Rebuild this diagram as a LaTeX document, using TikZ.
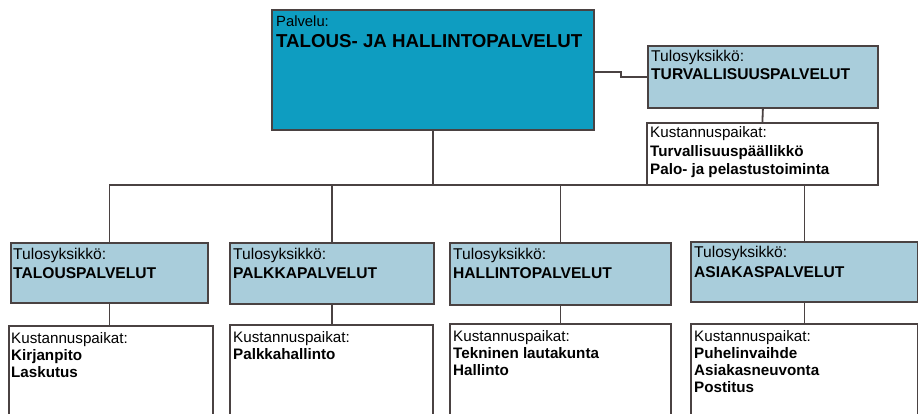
\documentclass[tikz,border=0pt]{standalone}
\usepackage{fontspec}
\setmainfont{Liberation Sans}
\definecolor{maincyan}{HTML}{0E9DC1}
\definecolor{unitblue}{HTML}{A9CDDB}
\definecolor{edge}{HTML}{4A4242}
\begin{document}
\begin{tikzpicture}[x=1pt,y=-1pt,
  box/.style={draw=edge,line width=1.8pt,inner sep=0pt},
  unitbox/.style={box,fill=unitblue},
  costbox/.style={box,fill=white},
  txt/.style={anchor=base west,align=left,inner sep=0pt,font=\fontsize{15.6}{18}\selectfont},
  ctxt/.style={anchor=base west,align=left,inner sep=0pt,font=\fontsize{15.2}{17.5}\selectfont},
  conn/.style={draw=edge,line width=1.8pt}]
\useasboundingbox (0,0) rectangle (918,414);
\fill[white] (0,0) rectangle (918,414);
\begin{scope}
\clip (0,0) rectangle (918,414);
% main
\node[box,fill=maincyan,minimum width=322pt,minimum height=120pt,anchor=north west] (main) at (271,9) {};
\node[txt] (maintxt1) at (276,27) {\fontsize{14.8}{17}\selectfont Palvelu:};
\node[txt] (maintxt2) at (276,48) {\fontsize{18.7}{21}\selectfont\bfseries TALOUS- JA HALLINTOPALVELUT};
% top right
\node[unitbox,minimum width=230pt,minimum height=62pt,anchor=north west] (turv) at (647,45) {};
\node[txt] (turvt1) at (651,62) {Tulosyksikkö:};
\node[txt] (turvt2) at (651,80) {\bfseries TURVALLISUUSPALVELUT};
\node[costbox,minimum width=231pt,minimum height=62pt,anchor=north west] (kt) at (646,122) {};
\node[ctxt] (ktt1) at (650,138) {Kustannuspaikat:};
\node[ctxt] (ktt2) at (650,157) {\bfseries Turvallisuuspäällikkö};
\node[ctxt] (ktt3) at (650,175) {\bfseries Palo- ja pelastustoiminta};
% bottom units
\node[unitbox,minimum width=197pt,minimum height=60pt,anchor=north west] (b1) at (10,242) {};
\node[unitbox,minimum width=204pt,minimum height=61pt,anchor=north west] (b2) at (229,242) {};
\node[unitbox,minimum width=221pt,minimum height=62pt,anchor=north west] (b3) at (449,242) {};
\node[unitbox,minimum width=227pt,minimum height=60pt,anchor=north west] (b4) at (690,241) {};
\node[txt] (b1t1) at (13,259) {Tulosyksikkö:};
\node[txt] (b1t2) at (13,278) {\bfseries TALOUSPALVELUT};
\node[txt] (b2t1) at (233,259) {Tulosyksikkö:};
\node[txt] (b2t2) at (233,278) {\bfseries PALKKAPALVELUT};
\node[txt] (b3t1) at (453,259) {Tulosyksikkö:};
\node[txt] (b3t2) at (453,278) {\bfseries HALLINTOPALVELUT};
\node[txt] (b4t1) at (694,258) {Tulosyksikkö:};
\node[txt] (b4t2) at (694,277) {\bfseries ASIAKASPALVELUT};
% bottom cost boxes
\node[costbox,minimum width=204pt,minimum height=100pt,anchor=north west] (k1) at (8,325) {};
\node[costbox,minimum width=203pt,minimum height=100pt,anchor=north west] (k2) at (229,324) {};
\node[costbox,minimum width=221pt,minimum height=100pt,anchor=north west] (k3) at (449,323) {};
\node[costbox,minimum width=227pt,minimum height=100pt,anchor=north west] (k4) at (690,323) {};
\node[ctxt] (k1t1) at (11,343) {Kustannuspaikat:};
\node[ctxt] (k1t2) at (11,360) {\bfseries Kirjanpito};
\node[ctxt] (k1t3) at (11,377) {\bfseries Laskutus};
\node[ctxt] (k2t1) at (233,342) {Kustannuspaikat:};
\node[ctxt] (k2t2) at (233,359) {\bfseries Palkkahallinto};
\node[ctxt] (k3t1) at (453,341) {Kustannuspaikat:};
\node[ctxt] (k3t2) at (453,358) {\bfseries Tekninen lautakunta};
\node[ctxt] (k3t3) at (453,375) {\bfseries Hallinto};
\node[ctxt] (k4t1) at (694,341) {Kustannuspaikat:};
\node[ctxt] (k4t2) at (694,358) {\bfseries Puhelinvaihde};
\node[ctxt] (k4t3) at (694,375) {\bfseries Asiakasneuvonta};
\node[ctxt] (k4t4) at (694,392) {\bfseries Postitus};
\end{scope}
% connectors
\coordinate (bus) at (0,185);
\coordinate (s1) at (621,72);
\coordinate (s2) at (621,77);
\draw[conn] (main.east |- s1) -- (s1) -- (s2) -- (turv.west |- s2);
\draw[conn] (turv.south) -- (kt.north);
\draw[conn] (main.south) -- (main.south |- bus);
\draw[conn] (b1.north |- bus) -- (b4.north |- bus);
\draw[conn] (b1.north |- bus) -- (b1.north);
\draw[conn] (b2.north |- bus) -- (b2.north);
\draw[conn] (b3.north |- bus) -- (b3.north);
\draw[conn] (b4.north |- bus) -- (b4.north);
\draw[conn] (b1.south) -- (b1.south |- k1.north);
\draw[conn] (b2.south) -- (b2.south |- k2.north);
\draw[conn] (b3.south) -- (b3.south |- k3.north);
\draw[conn] (b4.south) -- (b4.south |- k4.north);
\end{tikzpicture}
\end{document}
